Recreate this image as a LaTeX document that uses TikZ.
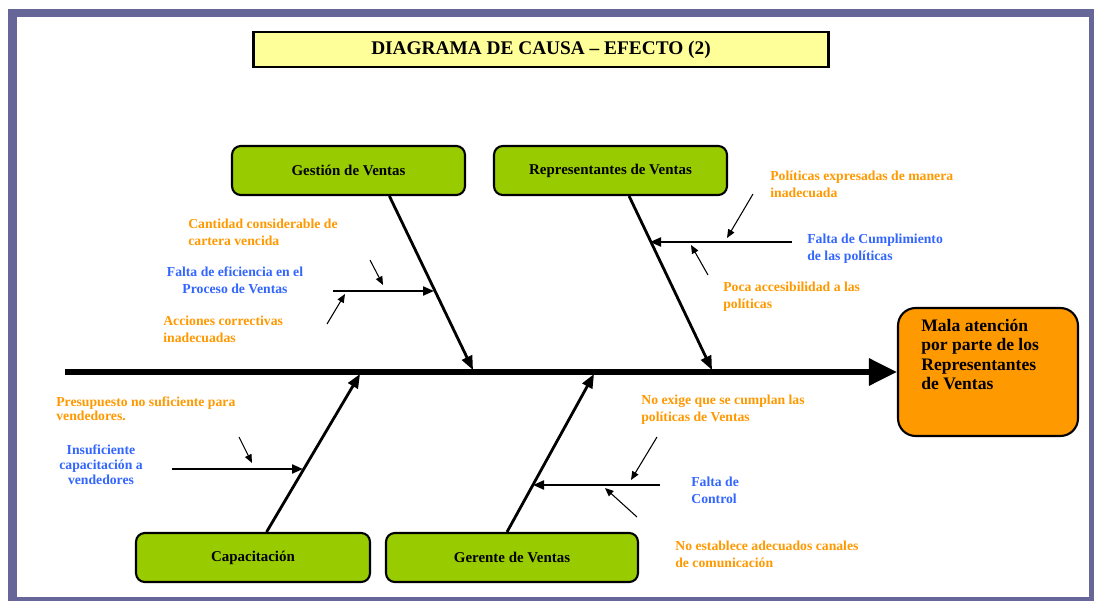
\documentclass[tikz,border=0pt]{standalone}
\usepackage{fontspec}
\setmainfont{Liberation Serif}
\usetikzlibrary{arrows.meta,positioning}
\definecolor{framepurple}{HTML}{666699}
\definecolor{boxgreen}{HTML}{99CC00}
\definecolor{efforange}{HTML}{FF9900}
\definecolor{titleyellow}{HTML}{FFFF99}
\definecolor{txtorange}{HTML}{FF9900}
\definecolor{txtblue}{HTML}{3366FF}
\tikzset{
  spinearr/.style={-{Triangle[length=5.6mm,width=5.2mm]}, line width=3.4pt},
  bonearr/.style={-{Triangle[length=2.8mm,width=2.2mm]}, line width=1.6pt},
  subarr/.style={-{Triangle[length=2.2mm,width=1.8mm]}, line width=1.2pt},
  tinyarr/.style={-{Triangle[length=1.7mm,width=1.4mm]}, line width=0.6pt},
  catbox/.style={draw, line width=1.2pt, rounded corners=5pt, fill=boxgreen,
    minimum width=4.66cm, minimum height=0.98cm, font=\fontsize{8.5}{10}\selectfont\bfseries},
  causetxt/.style={inner sep=0pt, align=left, font=\fontsize{7.8}{9.6}\selectfont\bfseries},
}

\begin{document}
\begin{tikzpicture}[
  x=0.02cm, y=-0.02cm,
  effbox/.style={draw, line width=1.2pt, rounded corners=10pt, fill=efforange,
    minimum width=3.6cm, minimum height=2.56cm},
]
  \useasboundingbox (0,0) rectangle (1095,601);
  % frame
  \fill[framepurple] (8,9) rectangle (1094,601);
  \fill[white] (17,17) rectangle (1089,597);

  \node[draw, line width=1.7pt, fill=titleyellow, minimum width=11.52cm, minimum height=0.7cm,
    font=\fontsize{11}{13}\selectfont\bfseries] (title) at (541,49.5) {DIAGRAMA DE CAUSA – EFECTO (2)};

  % effect and spine
  \node[effbox] (efecto) at (988,372) {};
  \node[inner sep=0pt, anchor=north west, align=left, font=\fontsize{10}{11}\selectfont\bfseries]
    (efectotxt) at (921,319) {Mala atención\\por parte de los\\Representantes\\de Ventas};
  \coordinate (tail) at (65,372);
  \draw[spinearr] (tail) -- (efecto.west);

  % categories
  \node[catbox] (gestion) at (348.5,170.5) {Gestión de Ventas};
  \node[catbox] (repres) at (610.5,170.5) {Representantes de Ventas};
  \node[catbox, minimum width=4.68cm] (capac) at (253,557.5) {Capacitación};
  \node[catbox, minimum width=5.04cm] (gerente) at (512,557.5) {Gerente de Ventas};

  \coordinate (j1) at (473,370);
  \coordinate (j2) at (712,370);
  \coordinate (j3) at (360,374);
  \coordinate (j4) at (594,374);
  \draw[bonearr] (gestion.-32) -- (j1);
  \draw[bonearr] (repres.-54.5) -- (j2);
  \draw[bonearr] (capac.62) -- (j3);
  \draw[bonearr] (gerente.101.5) -- (j4);

  % sub-causes
  \coordinate (s1) at (333,291);  \coordinate (e1) at (434,291);
  \coordinate (s2) at (792,242);  \coordinate (e2) at (650,242);
  \coordinate (s3) at (172,469);  \coordinate (e3) at (303,469);
  \coordinate (s4) at (660,485);  \coordinate (e4) at (533,485);
  \foreach \i in {1,...,4}
    \draw[subarr] (s\i) -- (e\i);

  \foreach \ax/\ay/\bx/\by in {370/260/383/285, 327/324/345/294, 753/194/727/238, 708/275/691/245,
                               239/437/252/463, 657/437/631/480, 637/517/605/488}{
    \coordinate (ta) at (\ax,\ay);
    \coordinate (tb) at (\bx,\by);
    \draw[tinyarr] (ta) -- (tb);
  }

  % labels
  \node[causetxt, text=txtorange, anchor=west] (cartera) at (188,232.5) {Cantidad considerable de\\cartera vencida};
  \node[causetxt, text=txtblue, align=center] (eficiencia) at (235,280.5) {Falta de eficiencia en el\\Proceso de Ventas};
  \node[causetxt, text=txtorange, anchor=west] (acciones) at (163,329.5) {Acciones correctivas\\inadecuadas};
  \node[causetxt, text=txtorange, anchor=west] (expresadas) at (770,184) {Políticas expresadas de manera\\inadecuada};
  \node[causetxt, text=txtblue, anchor=west] (cumplim) at (807,248.5) {Falta de Cumplimiento\\de las políticas};
  \node[causetxt, text=txtorange, anchor=west] (accesib) at (723,297) {Poca accesibilidad a las\\políticas};
  \node[causetxt, text=txtorange, anchor=west, font=\fontsize{7.8}{8}\selectfont\bfseries]
    (presup) at (56,408.5) {Presupuesto no suficiente para\\vendedores.};
  \node[causetxt, text=txtblue, align=center, font=\fontsize{7.8}{8.5}\selectfont\bfseries]
    (insuf) at (101,464.5) {Insuficiente\\capacitación a\\vendedores};
  \node[causetxt, text=txtorange, anchor=west] (exige) at (641,410) {No exige que se cumplan las\\políticas de Ventas};
  \node[causetxt, text=txtblue, anchor=west] (control) at (691,490.5) {Falta de\\Control};
  \node[causetxt, text=txtorange, anchor=west] (canales) at (675,554.5) {No establece adecuados canales\\de comunicación};
\end{tikzpicture}
\end{document}
